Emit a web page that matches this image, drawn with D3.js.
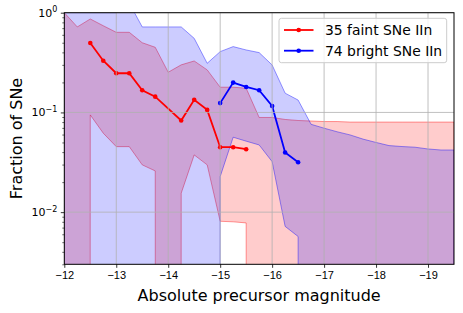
<!DOCTYPE html>
<html>
<head>
<meta charset="utf-8">
<script src="https://cdn.jsdelivr.net/npm/d3@7"></script>
<style>
  body { margin: 0; background: #fff; }
  svg { font-family: "DejaVu Sans", sans-serif; }
  .axis text { font-size: 11px; fill: #000; }
  .axis line { stroke: #000; stroke-width: 0.8; }
  .grid line { stroke: #b0b0b0; stroke-width: 0.8; }
</style>
</head>
<body>
<script>
// band grid (absolute magnitude) and the two shaded ranges
var bandMag = [-12, -12.25, -12.5, -12.75, -13, -13.25, -13.5, -13.75, -14, -14.25, -14.5,
  -14.75, -15, -15.25, -15.5, -15.75, -16, -16.25, -16.5, -16.75, -17, -17.25, -17.5,
  -17.75, -18, -18.25, -18.5, -18.75, -19, -19.25, -19.5];

var faintUpper = [1.0, 0.72, 0.865, 0.74, 0.636, 0.636, 0.5, 0.45, 0.253, 0.30, 0.328,
  0.267, 0.179, 0.179, 0.175, 0.089, 0.089, 0.085, 0.083, 0.082, 0.081, 0.081, 0.080,
  0.080, 0.080, 0.080, 0.080, 0.080, 0.080, 0.080, 0.080];
var faintLower = [0, 0, 0.0944, 0.0619, 0.0454, 0.0454, 0.0298, 0.0259, 0, 0.0155, 0.0375,
  0.0298, 0.0081, 0.0080, 0.0078, 0, 0, 0, 0, 0, 0, 0, 0,
  0, 0, 0, 0, 0, 0, 0, 0];

var brightUpper = [1.0, 1.0, 1.0, 1.0, 1.0, 1.25, 0.72, 0.72, 0.72, 0.72, 0.553,
  0.311, 0.407, 0.457, 0.423, 0.398, 0.299, 0.156, 0.133, 0.076, 0.0695, 0.064, 0.0595,
  0.054, 0.050, 0.0465, 0.0455, 0.0448, 0.043, 0.042, 0.042];
var brightLower = [0, 0, 0, 0, 0, 0, 0, 0, 0, 0, 0,
  0, 0.0227, 0.0564, 0.0515, 0.0472, 0.0321, 0.0072, 0.0057, 0, 0, 0, 0,
  0, 0, 0, 0, 0, 0, 0, 0];

// measured fractions
var faintMag = [-12.5, -12.75, -13, -13.25, -13.5, -13.75, -14.25, -14.5, -14.75, -15, -15.25, -15.5];
var faintFrac = [0.497, 0.33, 0.247, 0.247, 0.167, 0.144, 0.083, 0.134, 0.106, 0.0448, 0.0448, 0.0428];
var brightMag = [-15, -15.25, -15.5, -15.75, -16, -16.25, -16.5];
var brightFrac = [0.124, 0.199, 0.18, 0.167, 0.116, 0.0396, 0.0317];

var xTicks = [-12, -13, -14, -15, -16, -17, -18, -19];
var xTickLabels = ["\u221212", "\u221213", "\u221214", "\u221215", "\u221216", "\u221217", "\u221218", "\u221219"];
var yTicks = [0.01, 0.1, 1];
var yTickExp = ["\u22122", "\u22121", "0"];
var seriesNames = ["35 faint SNe IIn", "74 bright SNe IIn"];

var width = 463, height = 313;
var plot = {left: 64.3, right: 454, top: 12.7, bottom: 264.3};

var svg = d3.select("body").append("svg")
    .attr("width", width)
    .attr("height", height);

var x = d3.scaleLinear()
    .domain([-12, -19.5])
    .range([plot.left, plot.right]);

var y = d3.scaleLog()
    .domain([0.003, 1])
    .range([plot.bottom, plot.top]);

// log of zero -> far below the axis, like matplotlib clipping
function safe(v) { return v > 0 ? v : 1e-300; }

svg.append("clipPath").attr("id", "plotclip")
  .append("rect")
    .attr("x", plot.left).attr("y", plot.top)
    .attr("width", plot.right - plot.left)
    .attr("height", plot.bottom - plot.top);

var body = svg.append("g").attr("clip-path", "url(#plotclip)");

function band(upper, lower, color) {
  var pts = bandMag.map(function(m, i) { return {m: m, hi: upper[i], lo: lower[i]}; });
  var area = d3.area()
      .x(function(d) { return x(d.m); })
      .y0(function(d) { return y(safe(d.lo)); })
      .y1(function(d) { return y(safe(d.hi)); });
  body.append("path")
      .datum(pts)
      .attr("d", area)
      .attr("fill", color)
      .attr("fill-opacity", 0.2)
      .attr("stroke", color)
      .attr("stroke-opacity", 0.4)
      .attr("stroke-width", 1);
}

band(faintUpper, faintLower, "#ff0000");
band(brightUpper, brightLower, "#0000ff");

// grid
var grid = svg.append("g").attr("class", "grid").attr("clip-path", "url(#plotclip)");
grid.selectAll(".gx").data(xTicks).enter().append("line")
    .attr("x1", function(d) { return x(d); }).attr("x2", function(d) { return x(d); })
    .attr("y1", plot.top).attr("y2", plot.bottom);
grid.selectAll(".gy").data(yTicks).enter().append("line")
    .attr("y1", function(d) { return y(d); }).attr("y2", function(d) { return y(d); })
    .attr("x1", plot.left).attr("x2", plot.right);

function drawLine(mags, fracs, color) {
  var pts = mags.map(function(m, i) { return {m: m, f: fracs[i]}; });
  var line = d3.line()
      .x(function(d) { return x(d.m); })
      .y(function(d) { return y(d.f); });
  body.append("path")
      .datum(pts)
      .attr("d", line)
      .attr("fill", "none")
      .attr("stroke", color)
      .attr("stroke-width", 1.8);
  body.selectAll(null)
      .data(pts)
      .enter().append("circle")
      .attr("cx", function(d) { return x(d.m); })
      .attr("cy", function(d) { return y(d.f); })
      .attr("r", 2.3)
      .attr("fill", color);
}

drawLine(faintMag, faintFrac, "#ff0000");
drawLine(brightMag, brightFrac, "#0000ff");

// x axis
var xAxis = svg.append("g")
    .attr("class", "axis")
    .attr("transform", "translate(0," + plot.bottom + ")")
    .call(d3.axisBottom(x)
      .tickValues(xTicks)
      .tickSize(3.5)
      .tickPadding(3.5)
      .tickFormat(function(d, i) { return xTickLabels[i]; }));
xAxis.select(".domain").remove();

// y axis, major
var yAxis = svg.append("g")
    .attr("class", "axis")
    .attr("transform", "translate(" + plot.left + ",0)")
    .call(d3.axisLeft(y).tickValues(yTicks).tickSize(3.5).tickFormat(""));
yAxis.select(".domain").remove();

// y minor ticks from the log scale
var minor = y.ticks().filter(function(d) { return yTicks.indexOf(d) < 0; });
var yMinor = svg.append("g")
    .attr("class", "axis")
    .attr("transform", "translate(" + plot.left + ",0)")
    .call(d3.axisLeft(y).tickValues(minor).tickSize(2).tickFormat(""));
yMinor.select(".domain").remove();
yMinor.selectAll("line").style("stroke-width", 0.6);

var yLab = svg.append("g").attr("class", "axis");
yTicks.forEach(function(v, i) {
  var t = yLab.append("text")
      .attr("x", plot.left - 7)
      .attr("y", y(v) + 4)
      .attr("text-anchor", "end");
  t.append("tspan").text("10");
  t.append("tspan")
      .attr("dy", -4.5)
      .style("font-size", "8px")
      .text(yTickExp[i]);
});

// frame
svg.append("rect")
    .attr("x", plot.left).attr("y", plot.top)
    .attr("width", plot.right - plot.left)
    .attr("height", plot.bottom - plot.top)
    .attr("fill", "none")
    .attr("stroke", "#000")
    .attr("stroke-width", 1);

// axis titles
svg.append("text")
    .attr("x", (plot.left + plot.right) / 2)
    .attr("y", 301)
    .attr("text-anchor", "middle")
    .style("font-size", "16px")
    .text("Absolute precursor magnitude");

svg.append("text")
    .attr("transform", "translate(21.5," + (plot.top + plot.bottom) / 2 + ") rotate(-90)")
    .attr("text-anchor", "middle")
    .style("font-size", "16px")
    .text("Fraction of SNe");

// legend
var legend = svg.append("g");
legend.append("rect")
    .attr("x", 279).attr("y", 18.3)
    .attr("width", 167.7).attr("height", 44.4)
    .attr("rx", 2.5)
    .attr("fill", "#fff").attr("fill-opacity", 0.8)
    .attr("stroke", "#cccccc").attr("stroke-width", 1);

var legendColors = ["#ff0000", "#0000ff"];
var legendRow = d3.scaleLinear().domain([0, 1]).range([30, 50.7]);
legendColors.forEach(function(c, i) {
  var ly = legendRow(i);
  legend.append("line")
      .attr("x1", 284).attr("x2", 313.5)
      .attr("y1", ly).attr("y2", ly)
      .attr("stroke", c).attr("stroke-width", 1.8);
  legend.append("circle")
      .attr("cx", 298.7).attr("cy", ly).attr("r", 2.3)
      .attr("fill", c);
  legend.append("text")
      .attr("x", 325).attr("y", ly + 5)
      .style("font-size", "13.9px")
      .text(seriesNames[i]);
});
</script>
</body>
</html>
